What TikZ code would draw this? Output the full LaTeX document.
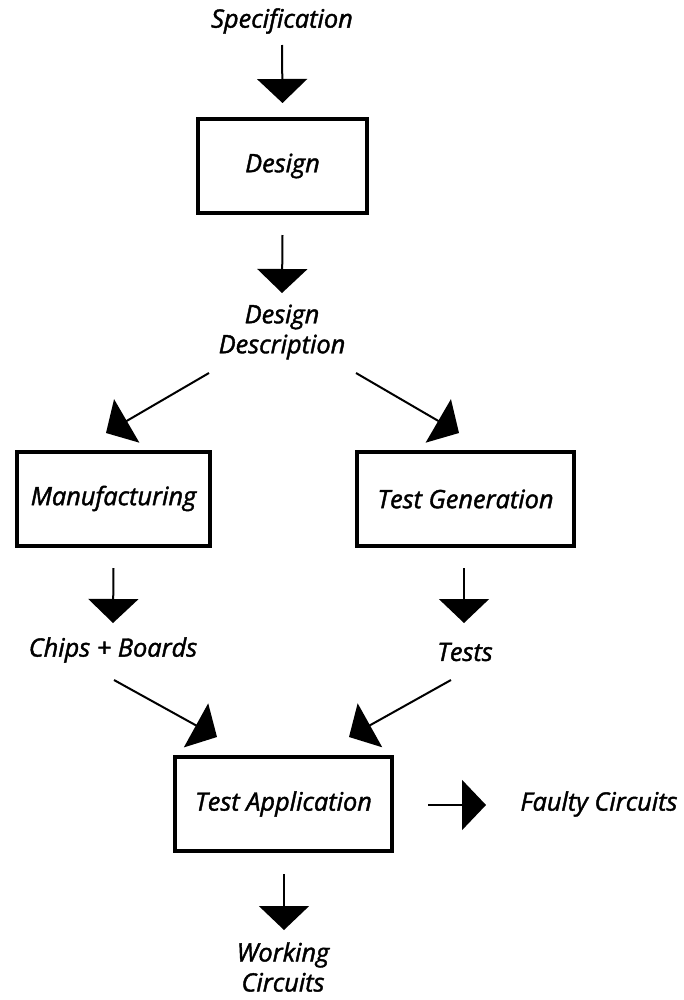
\documentclass[tikz,border=0pt]{standalone}
\usepackage{fontspec}
\setmainfont{Open Sans}[ItalicFeatures={FakeBold=1.6}]
\usetikzlibrary{arrows.meta,calc}
\begin{document}
\begin{tikzpicture}[x=0.75pt,y=-0.75pt,
  lbl/.style={font=\fontsize{19}{22.5}\selectfont\itshape, align=center, inner sep=0pt},
  stage/.style={lbl, draw, line width=3pt, minimum width=#1, minimum height=70.5pt},
  arr/.style={line width=1.5pt, -{Triangle[width=37.5pt,length=18pt]}}]
\useasboundingbox (0,0) rectangle (683,1000);

% labels and stages
\node[lbl] (spec) at (282,21) {Specification};
\node[stage=126.75pt] (design) at (282.5,166) {Design};
\node[lbl] (dd) at (282,332) {Design\\Description};
\node[stage=144.75pt] (manuf) at (113.5,498.5) {Manufacturing};
\node[stage=162.75pt] (tg) at (465.5,499) {Test Generation};
\node[lbl] (chips) at (113,650) {Chips + Boards};
\node[lbl] (tests) at (465,652) {Tests};
\node[stage=162.75pt] (ta) at (283.5,804) {Test Application};
\node[lbl] (faulty) at (599,804) {Faulty Circuits};
\node[lbl] (working) at (283,967) {Working\\Circuits};

% flow arrows
\draw[arr] ($(spec.center)+(0,24)$) -- ($(design.center)+(0,-63)$);
\draw[arr] ($(design.center)+(0,69)$) -- ($(dd.center)+(0,-39)$);
\draw[arr] ($(dd.center)+(-73,41)$) -- ($(manuf.center)+(-7.5,-65.5)$);
\draw[arr] ($(dd.center)+(74,41)$) -- ($(tg.center)+(-6.5,-66)$);
\draw[arr] ($(manuf.center)+(0,69.5)$) -- ($(chips.center)+(0,-27)$);
\draw[arr] ($(tg.center)+(-1.5,69)$) -- ($(tests.center)+(-1,-29)$);
\draw[arr] ($(chips.center)+(1,30)$) -- ($(ta.center)+(-66.5,-67)$);
\draw[arr] ($(tests.center)+(-14,28)$) -- ($(ta.center)+(65.5,-67)$);
\draw[arr] ($(ta.center)+(144.5,1)$) -- ($(faulty.center)+(-113,1)$);
\draw[arr] ($(ta.center)+(0.5,70)$) -- ($(working.center)+(1,-37)$);
\end{tikzpicture}
\end{document}
